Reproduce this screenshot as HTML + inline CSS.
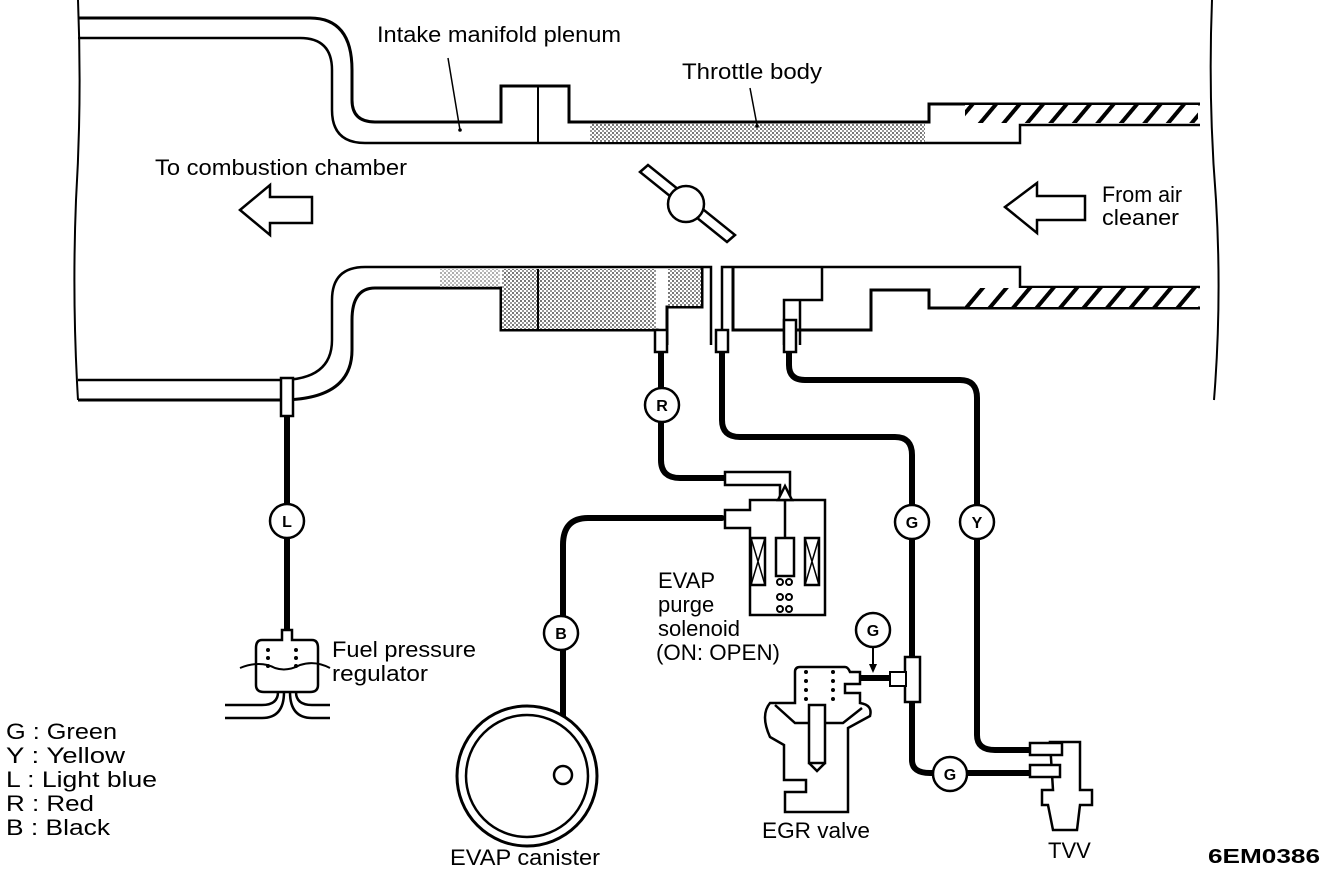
<!DOCTYPE html>
<html><head><meta charset="utf-8"><style>
html,body{margin:0;padding:0;background:#fff;}
svg{display:block}
text{font-family:"Liberation Sans",Arial,sans-serif;fill:#000}
</style></head><body>
<svg width="1344" height="872" viewBox="0 0 1344 872" xmlns="http://www.w3.org/2000/svg">
<defs>
<pattern id="dots" width="4" height="4" patternUnits="userSpaceOnUse"><rect width="4" height="4" fill="#fff"/><rect width="2" height="2" fill="#777"/><rect x="2" y="2" width="2" height="2" fill="#999"/></pattern>
<pattern id="hatch" width="18" height="18" patternUnits="userSpaceOnUse" patternTransform="rotate(40)"><rect width="18" height="18" fill="#fff"/><rect width="4" height="18" fill="#000"/></pattern>
</defs>
<g fill="none" stroke="#000" stroke-width="3">
<path d="M78 0 Q82 100 76 200 Q72 300 78 400" stroke-width="2"/>
<path d="M1212 0 Q1208 100 1216 200 Q1222 300 1214 400" stroke-width="2"/>
<path d="M78 18 H310 Q352 18 352 70 V100 Q352 122 375 122 H501 V86 H569 V122 H929 V104 H1200"/>
<path d="M78 38 H300 Q332 38 332 70 V110 Q332 143 365 143 H1020 V125 H1200" stroke-width="2.5"/>
<line x1="538" y1="86" x2="538" y2="143" stroke-width="2"/>
</g>
<rect x="590" y="124" width="335" height="18" fill="url(#dots)"/>
<rect x="965" y="105" width="233" height="18" fill="url(#hatch)"/>
<path d="M1020 125 V143" stroke="#000" stroke-width="2"/>
<g fill="none" stroke="#000" stroke-width="3">
<path d="M78 400 H280 Q352 400 352 350 V320 Q352 288 375 288 H501 V330 H657 V345 M667 345 V307 H702 V267 M733 267 V330 H871 V290 H929 V308 H1200"/>
<path d="M784 345 V300 H800 V345 M796 300 H822 V267" stroke-width="2.5"/>
<path d="M78 380 H280 Q332 380 332 340 V300 Q332 267 365 267 H711 V345 M722 345 V267 H1020 V287 H1200" stroke-width="2.5"/>
</g>
<rect x="502" y="269" width="154" height="60" fill="url(#dots)"/>
<rect x="440" y="269" width="60" height="18" fill="url(#dots)" opacity="0.6"/>
<rect x="668" y="269" width="33" height="37" fill="url(#dots)"/>
<line x1="538" y1="269" x2="538" y2="330" stroke="#000" stroke-width="2"/>
<rect x="965" y="288" width="233" height="19" fill="url(#hatch)"/>
<g stroke="#000" stroke-width="2.5" fill="#fff">
<path d="M640 172 L648 165 L735 235 L727 242 Z"/>
<circle cx="686" cy="204" r="18"/>
</g>
<path d="M240 210 L270 185 V197 H312 V223 H270 V235 Z" fill="#fff" stroke="#000" stroke-width="2.5"/>
<path d="M1005 207 L1037 183 V196 H1085 V220 H1037 V233 Z" fill="#fff" stroke="#000" stroke-width="2.5"/>
<g fill="none" stroke="#000" stroke-width="6" stroke-linecap="round">
<path d="M287 415 V640"/>
<path d="M661 350 V460 Q661 478 680 478 H725"/>
<path d="M722 350 V420 Q722 437 740 437 H895 Q912 437 912 455 V760 Q912 773 930 773 H1035"/>
<path d="M789 350 V365 Q789 380 805 380 H960 Q977 380 977 398 V735 Q977 750 995 750 H1035"/>
<path d="M722 518 H588 Q563 518 563 545 V775"/>
<path d="M860 678 H905"/>
</g>
<g fill="#fff" stroke="#000" stroke-width="2.5">
<rect x="281" y="378" width="12" height="38"/>
<rect x="655" y="330" width="12" height="22"/>
<rect x="716" y="330" width="12" height="22"/>
<rect x="784" y="320" width="12" height="32"/>
</g>
<g fill="#fff" stroke="#000" stroke-width="2.5">
<path d="M725 472 H790 V500 H780 V485 H725 Z"/>
<path d="M725 510 H750 V500 H825 V615 H750 V528 H725 Z"/>
<path d="M785 486 L778 500 H792 Z"/>
<line x1="785" y1="500" x2="785" y2="538"/>
<rect x="751" y="538" width="14" height="47"/><path d="M751 538 L765 585 M765 538 L751 585" stroke-width="1.5"/>
<rect x="805" y="538" width="14" height="47"/><path d="M805 538 L819 585 M819 538 L805 585" stroke-width="1.5"/>
<rect x="776" y="538" width="18" height="38"/>
</g>
<g fill="none" stroke="#000" stroke-width="2">
<circle cx="780" cy="582" r="3"/><circle cx="789" cy="582" r="3"/>
<circle cx="780" cy="597" r="3"/><circle cx="789" cy="597" r="3"/>
<circle cx="780" cy="609" r="3"/><circle cx="789" cy="609" r="3"/>
</g>
<circle cx="527" cy="776" r="70" fill="#fff" stroke="#000" stroke-width="3"/>
<circle cx="527" cy="776" r="61" fill="none" stroke="#000" stroke-width="2.5"/>
<circle cx="563" cy="775" r="9" fill="#fff" stroke="#000" stroke-width="2.5"/>
<g fill="none" stroke="#000" stroke-width="2.5">
<path d="M282 630 H292 V640 H312 Q318 640 318 648 V685 Q318 692 310 692 H264 Q256 692 256 685 V648 Q256 640 262 640 H282 Z" fill="#fff"/>
<path d="M240 668 Q260 660 275 668 Q287 672 300 665 Q315 660 330 668" stroke-width="2"/>
<path d="M278 692 Q278 705 262 705 H225 M296 692 Q296 705 312 705 H330 M284 692 Q284 718 262 718 H225 M290 692 Q290 718 312 718 H330" stroke-width="2.5"/>
</g>
<g fill="#000"><circle cx="268" cy="650" r="2"/><circle cx="268" cy="658" r="2"/><circle cx="268" cy="666" r="2"/><circle cx="296" cy="650" r="2"/><circle cx="296" cy="658" r="2"/><circle cx="296" cy="666" r="2"/></g>
<g fill="#fff" stroke="#000" stroke-width="2.5">
<path d="M795 672 Q795 667 800 667 H845 Q848 667 850 672 H860 V684 H845 V693 H860 V703 Q873 705 870 716 L848 728 V812 H785 V792 H806 V780 H784 V745 L770 737 Q760 715 770 703 H795 Z"/>
<path d="M775 705 L795 723 H843 L862 708" fill="none"/>
<rect x="809" y="705" width="16" height="58" fill="#fff"/>
<path d="M809 763 L817 771 L825 763" fill="none"/>
</g>
<g fill="#000"><circle cx="806" cy="672" r="2"/><circle cx="806" cy="681" r="2"/><circle cx="806" cy="690" r="2"/><circle cx="806" cy="699" r="2"/><circle cx="833" cy="672" r="2"/><circle cx="833" cy="681" r="2"/><circle cx="833" cy="690" r="2"/><circle cx="833" cy="699" r="2"/></g>
<rect x="905" y="657" width="15" height="45" fill="#fff" stroke="#000" stroke-width="2.5"/>
<rect x="890" y="672" width="16" height="14" fill="#fff" stroke="#000" stroke-width="2"/>
<g fill="#fff" stroke="#000" stroke-width="2.5">
<path d="M1050 742 H1080 V790 H1092 V805 H1080 L1077 830 H1053 L1048 805 H1042 V790 H1053 Z"/>
<rect x="1030" y="743" width="32" height="12"/>
<rect x="1030" y="765" width="30" height="12"/>
</g>
<g fill="#fff" stroke="#000" stroke-width="2.5">
<circle cx="287" cy="521" r="17"/><circle cx="662" cy="405" r="17"/><circle cx="561" cy="633" r="17"/>
<circle cx="912" cy="522" r="17"/><circle cx="977" cy="522" r="17"/><circle cx="873" cy="630" r="17"/>
<circle cx="950" cy="774" r="17"/>
</g>
<line x1="873" y1="647" x2="873" y2="668" stroke="#000" stroke-width="2"/>
<path d="M869 664 L877 664 L873 673 Z" fill="#000"/>
<g font-weight="bold" font-size="16" text-anchor="middle">
<text x="287" y="527">L</text><text x="662" y="411">R</text><text x="561" y="639">B</text>
<text x="912" y="528">G</text><text x="977" y="528">Y</text><text x="873" y="636">G</text><text x="950" y="780">G</text>
</g>
<g stroke="#000" stroke-width="1.5" fill="none">
<line x1="448" y1="58" x2="460" y2="130"/><line x1="750" y1="88" x2="757" y2="125"/>
</g>
<circle cx="460" cy="130" r="1.8" fill="#000"/><circle cx="757" cy="126" r="1.8" fill="#000"/>
<g font-size="22">
<text x="377" y="42" textLength="244" lengthAdjust="spacingAndGlyphs">Intake manifold plenum</text>
<text x="682" y="79" textLength="140" lengthAdjust="spacingAndGlyphs">Throttle body</text>
<text x="155" y="175" textLength="252" lengthAdjust="spacingAndGlyphs">To combustion chamber</text>
<text x="1102" y="202" textLength="80" lengthAdjust="spacingAndGlyphs">From air</text>
<text x="1102" y="225" textLength="77" lengthAdjust="spacingAndGlyphs">cleaner</text>
<text x="332" y="657" textLength="144" lengthAdjust="spacingAndGlyphs">Fuel pressure</text>
<text x="332" y="681" textLength="96" lengthAdjust="spacingAndGlyphs">regulator</text>
<text x="658" y="588">EVAP</text>
<text x="658" y="612">purge</text>
<text x="658" y="636">solenoid</text>
<text x="656" y="660" textLength="124" lengthAdjust="spacingAndGlyphs">(ON: OPEN)</text>
<text x="762" y="838" textLength="108" lengthAdjust="spacingAndGlyphs">EGR valve</text>
<text x="450" y="865" textLength="150" lengthAdjust="spacingAndGlyphs">EVAP canister</text>
<text x="1048" y="858">TVV</text>
<text x="6" y="739" textLength="111" lengthAdjust="spacingAndGlyphs">G  : Green</text>
<text x="6" y="763" textLength="119" lengthAdjust="spacingAndGlyphs">Y  : Yellow</text>
<text x="6" y="787" textLength="151" lengthAdjust="spacingAndGlyphs">L  : Light blue</text>
<text x="6" y="811" textLength="88" lengthAdjust="spacingAndGlyphs">R  : Red</text>
<text x="6" y="835" textLength="104" lengthAdjust="spacingAndGlyphs">B  : Black</text>
</g>
<text x="1208" y="863" font-size="20" font-weight="bold" textLength="112" lengthAdjust="spacingAndGlyphs">6EM0386</text>
</svg>
</body></html>
